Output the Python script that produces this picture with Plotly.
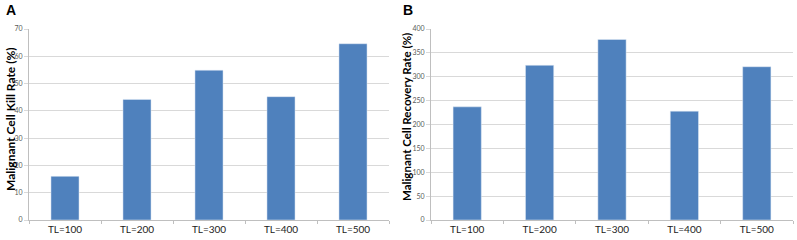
import plotly.graph_objects as go

categories = ["TL=100", "TL=200", "TL=300", "TL=400", "TL=500"]
kill_rate = [16, 44.2, 54.9, 45.2, 64.6]
recovery_rate = [237, 324, 378, 228, 321]
kill_ticks = [0, 10, 20, 30, 40, 50, 60, 70]
recovery_ticks = [0, 50, 100, 150, 200, 250, 300, 350, 400]

BAR = "#4f81bd"
FONT = "Lato"

fig = go.Figure()
fig.add_trace(go.Bar(x=categories, y=kill_rate, marker_color=BAR, width=0.39,
                     xaxis="x", yaxis="y", showlegend=False))
fig.add_trace(go.Bar(x=categories, y=recovery_rate, marker_color=BAR, width=0.39,
                     xaxis="x2", yaxis="y2", showlegend=False))

W, H = 797, 240
ydom = [(240 - 220) / H, (240 - 29) / H]

xcommon = dict(type="category", tickson="boundaries", ticks="outside", ticklen=3,
               tickcolor="#bfbfbf", showline=True, linecolor="#bfbfbf", linewidth=1,
               showgrid=False, tickfont=dict(family=FONT, size=10, color="#222"),
               range=[-0.5, 4.5], automargin=False)
ycommon = dict(showline=True, linecolor="#bfbfbf", linewidth=1, showgrid=True,
               gridcolor="#d9d9d9", gridwidth=1, ticks="outside", ticklen=4,
               tickcolor="#d9d9d9", tickfont=dict(family=FONT, size=7, color="#595959"),
               zeroline=False, automargin=False)

fig.update_layout(
    width=W, height=H, margin=dict(l=0, r=0, t=0, b=0),
    paper_bgcolor="white", plot_bgcolor="white", bargap=0.6,
    xaxis=dict(domain=[29 / W, 389 / W], anchor="y", **xcommon),
    yaxis=dict(domain=ydom, anchor="x", range=[0, 70], tickvals=kill_ticks, **ycommon),
    xaxis2=dict(domain=[431 / W, 793 / W], anchor="y2", **xcommon),
    yaxis2=dict(domain=ydom, anchor="x2", range=[0, 400], tickvals=recovery_ticks, **ycommon),
    annotations=[
        dict(text="<b>A</b>", x=4 / W, y=1.0, xref="paper", yref="paper", xanchor="left",
             yanchor="top", showarrow=False, font=dict(family="Liberation Sans", size=14, color="black")),
        dict(text="<b>B</b>", x=401 / W, y=1.0, xref="paper", yref="paper", xanchor="left",
             yanchor="top", showarrow=False, font=dict(family="Liberation Sans", size=14, color="black")),
        dict(text="<b>Malignant Cell Kill Rate (%)</b>", x=10 / W, y=(240 - 119) / H,
             xref="paper", yref="paper", xanchor="center", yanchor="middle",
             textangle=-90, showarrow=False,
             font=dict(family=FONT, size=12, color="black")),
        dict(text="<b>Malignant Cell Recovery Rate (%)</b>", x=406 / W, y=(240 - 117) / H,
             xref="paper", yref="paper", xanchor="center", yanchor="middle",
             textangle=-90, showarrow=False,
             font=dict(family=FONT, size=11.5, color="black")),
    ],
)

fig.write_html("out.html", config={"displayModeBar": False},
               post_script="document.body.style.margin='0';")
